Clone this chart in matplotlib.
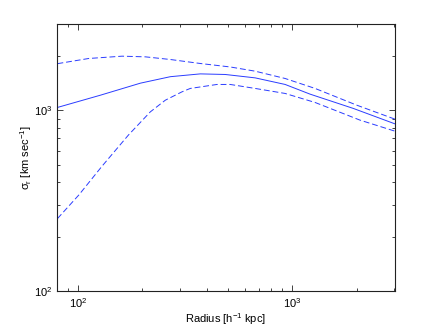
import matplotlib
matplotlib.use("Agg")
import matplotlib.pyplot as plt
from matplotlib.ticker import LogLocator, NullFormatter

plt.rcParams['font.family'] = ['Liberation Sans', 'DejaVu Sans']
plt.rcParams['mathtext.fontset'] = 'custom'
plt.rcParams['mathtext.rm'] = 'Liberation Sans'
plt.rcParams['mathtext.it'] = 'Liberation Sans:italic'
plt.rcParams['mathtext.default'] = 'regular'

# Solid curve (median)
r_mid = [80.4, 127.6, 195.9, 270.3, 372.9, 487.5, 672.5, 927.8, 1213, 1930, 3017]
s_mid = [1039, 1215, 1416, 1538, 1594, 1582, 1515, 1393, 1231, 1026, 843]

# Upper dashed curve
r_up = [80.4, 112.5, 161.0, 206.7, 270.3, 372.9, 514.4, 672.5, 927.8, 1280, 2001, 3017]
s_up = [1816, 1940, 1998, 1981, 1915, 1820, 1741, 1650, 1503, 1324, 1070, 895]

# Lower dashed curve
r_lo = [80.4, 101.1, 129.9, 172.2, 218, 256.2, 306.4, 334.9, 446, 514.4, 672.5, 927.8, 1280, 2073, 3017]
s_lo = [251.8, 340, 492, 730, 982, 1140, 1268, 1324, 1393, 1393, 1324, 1242, 1107, 884, 768]

fig = plt.figure(figsize=(4.36, 3.28), dpi=100)
ax = fig.add_axes([57/436, 37/328, 338/436, 266.7/328])

line_color = '#2a3cff'
ax.plot(r_mid, s_mid, color=line_color, lw=0.7)
ax.plot(r_up, s_up, color=line_color, lw=0.7, dashes=(6, 3))
ax.plot(r_lo, s_lo, color=line_color, lw=0.7, dashes=(6, 3))

ax.set_xscale('log')
ax.set_yscale('log')
ax.set_xlim(80, 3020)
ax.set_ylim(100, 3000)

ax.xaxis.set_major_locator(LogLocator(base=10, numticks=10))
ax.yaxis.set_major_locator(LogLocator(base=10, numticks=10))
ax.xaxis.set_minor_locator(LogLocator(base=10, subs=range(2, 10), numticks=20))
ax.yaxis.set_minor_locator(LogLocator(base=10, subs=range(2, 10), numticks=20))
ax.xaxis.set_minor_formatter(NullFormatter())
ax.yaxis.set_minor_formatter(NullFormatter())

ax.tick_params(which='both', direction='in', top=True, right=True,
               labelsize=8, color='#222222', width=0.6)
ax.tick_params(which='major', length=4)
ax.tick_params(which='minor', length=2)
for sp in ax.spines.values():
    sp.set_linewidth(0.8)
    sp.set_color('#222222')

ax.set_xlabel(r'Radius [h$^{-1}$ kpc]', fontsize=8, labelpad=1)
ax.set_ylabel(r'$\sigma_r$ [km sec$^{-1}$]', fontsize=8, labelpad=0)

fig.savefig('out.png', dpi=100)
